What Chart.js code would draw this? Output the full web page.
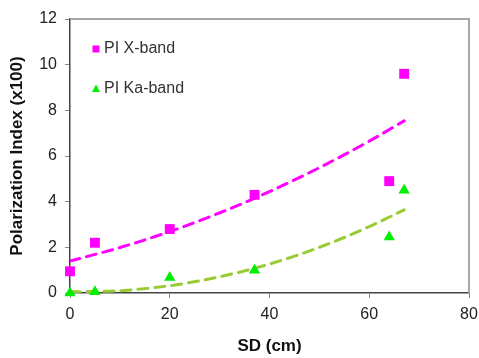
<!DOCTYPE html>
<html>
<head>
<meta charset="utf-8">
<script src="https://cdn.jsdelivr.net/npm/chart.js@4/dist/chart.umd.min.js"></script>
<style>
  html,body{margin:0;padding:0;background:#fff;}
  #wrap{width:479px;height:358px;position:relative;}
</style>
</head>
<body>
<div id="wrap"><canvas id="chart" width="479" height="358"></canvas></div>
<script>
// Messpunkte (SD in cm)
const sdX = [0, 5, 20, 37, 64, 67];
const piXband = [0.95, 2.2, 2.8, 4.3, 4.9, 9.6];
const sdKa = [0, 5, 20, 37, 64, 67];
const piKaband = [0.0, 0.05, 0.68, 1.0, 2.45, 4.5];

// Trendlinien
const trendX = [0, 10, 20, 30, 40, 50, 60, 67];
const trendXband = [1.40, 1.99, 2.69, 3.51, 4.44, 5.49, 6.65, 7.54];
const trendKaband = [0.05, 0.10, 0.32, 0.71, 1.27, 2.00, 2.91, 3.64];

const legendLabels = ["PI X-band", "PI Ka-band"];
const MAGENTA = "#ff00ff", GREEN = "#00ee00", TREND_GREEN = "#99cc33";
const FONT = "'Liberation Sans', Arial, sans-serif";

const pts = (xs, ys) => xs.map((x, i) => ({x, y: ys[i]}));

// Rahmen oben/rechts + Legende im Plot
const framePlugin = {
  id: "frame",
  beforeDatasetsDraw(c){
    const {ctx, chartArea:a} = c;
    ctx.save();
    ctx.strokeStyle = "#a6a6a6"; ctx.lineWidth = 2;
    ctx.beginPath();
    ctx.moveTo(a.left, a.top); ctx.lineTo(a.right, a.top); ctx.lineTo(a.right, a.bottom);
    ctx.stroke();
    ctx.restore();
  },
  afterDraw(c){
    const ctx = c.ctx;
    ctx.save();
    ctx.font = "16px " + FONT;
    ctx.textBaseline = "middle";
    // Quadrat
    ctx.fillStyle = MAGENTA;
    ctx.fillRect(92.5, 45.5, 7, 7);
    ctx.fillStyle = "#333";
    ctx.fillText(legendLabels[0], 104, 49);
    // Dreieck
    ctx.fillStyle = GREEN;
    ctx.beginPath();
    ctx.moveTo(96, 84.5); ctx.lineTo(100, 92); ctx.lineTo(92, 92); ctx.closePath();
    ctx.fill();
    ctx.fillStyle = "#333";
    ctx.fillText(legendLabels[1], 104, 89);
    ctx.restore();
  }
};

new Chart(document.getElementById("chart"), {
  type: "scatter",
  data: {
    datasets: [
      {label: legendLabels[0], data: pts(sdX, piXband), pointStyle: "rect", pointRadius: 7,
       backgroundColor: MAGENTA, borderColor: MAGENTA, borderWidth: 0, clip: false, order: 1},
      {label: legendLabels[1], data: pts(sdKa, piKaband), pointStyle: "triangle", pointRadius: 6.5,
       backgroundColor: GREEN, borderColor: GREEN, borderWidth: 0, clip: false, order: 1},
      {label: "trend X", data: pts(trendX, trendXband), type: "line", showLine: true, pointRadius: 0,
       borderColor: MAGENTA, borderWidth: 3, borderDash: [10, 7], borderCapStyle: "round",
       cubicInterpolationMode: "monotone", fill: false, order: 2},
      {label: "trend Ka", data: pts(trendX, trendKaband), type: "line", showLine: true, pointRadius: 0,
       borderColor: TREND_GREEN, borderWidth: 3, borderDash: [10, 7], borderCapStyle: "round",
       cubicInterpolationMode: "monotone", fill: false, order: 2}
    ]
  },
  options: {
    responsive: false,
    animation: false,
    layout: {padding: {left: 0, right: 10, top: 19, bottom: 0}},
    plugins: {legend: {display: false}, tooltip: {enabled: false}},
    scales: {
      x: {
        type: "linear", min: 0, max: 80,
        ticks: {stepSize: 20, color: "#222", font: {family: FONT, size: 16}, padding: 7, maxRotation: 0},
        grid: {drawOnChartArea: false, drawTicks: true, tickLength: 5, color: "#888"},
        border: {color: "#444", width: 1.5},
        title: {display: true, text: "SD (cm)", color: "#111", font: {family: FONT, size: 17, weight: "bold"}, padding: {top: 0, bottom: 1}},
        afterFit(s){ s.height = 65; s.paddingRight = 0; s.paddingLeft = 0; }
      },
      y: {
        min: 0, max: 12,
        ticks: {stepSize: 2, color: "#222", font: {family: FONT, size: 16}, padding: 8},
        grid: {drawOnChartArea: false, drawTicks: true, tickLength: 5, color: "#888"},
        border: {color: "#444", width: 1.5},
        title: {display: true, text: "Polarization Index (x100)", color: "#111", font: {family: FONT, size: 17, weight: "bold"}, padding: {top: 7, bottom: 0}},
        afterFit(s){ s.width = 70; s.paddingTop = 0; s.paddingBottom = 0; }
      }
    }
  },
  plugins: [framePlugin]
});
</script>
</body>
</html>
